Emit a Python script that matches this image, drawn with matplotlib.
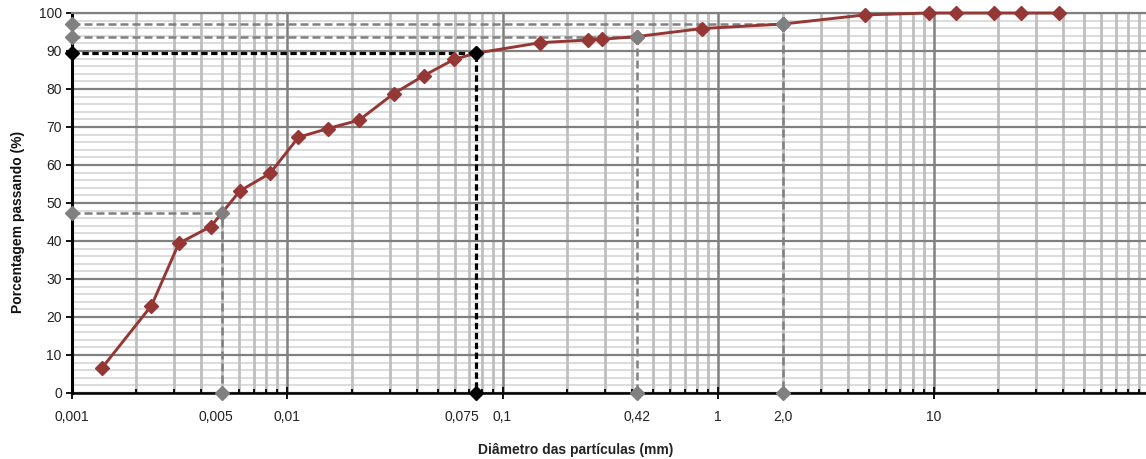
import matplotlib
matplotlib.use("Agg")
import matplotlib.pyplot as plt
import numpy as np
from matplotlib.ticker import LogLocator, MultipleLocator, NullFormatter

plt.rcParams['font.family'] = ['Liberation Sans', 'DejaVu Sans']

# Grain-size distribution (sedimentation + sieving)
diameter_mm = [0.00139, 0.00235, 0.00315, 0.00443, 0.00605, 0.00834, 0.0113,
               0.0155, 0.0216, 0.0313, 0.0431, 0.0596, 0.075, 0.15, 0.25,
               0.29, 0.42, 0.84, 2.0, 4.8, 9.5, 12.7, 19.1, 25.4, 38.1]
passing_pct = [6.7, 23.0, 39.4, 43.8, 53.2, 57.8, 67.3, 69.6, 71.8, 78.8,
               83.5, 87.8, 89.4, 92.2, 92.9, 93.1, 93.8, 95.9, 97.1, 99.5,
               100.0, 100.0, 100.0, 100.0, 100.0]

# Reference diameters with their passing percentages
ref_diameter = [0.005, 0.075, 0.42, 2.0]
ref_passing = [47.4, 89.4, 93.8, 97.1]
ref_color = ['#808080', '#000000', '#808080', '#808080']

x_tick_values = [0.001, 0.005, 0.01, 0.075, 0.1, 0.42, 1, 2.0, 10]
x_tick_labels = ['0,001', '0,005', '0,01', '0,075', '0,1', '0,42', '1', '2,0', '10']
x_tick_offsets = [0, -6, 0, -14, 0, 0, 0, 0, 0]  # label nudges in pixels

X_MIN, X_MAX = 0.001, 100
FS = 10

fig = plt.figure(figsize=(11.46, 4.59), dpi=100)
ax = fig.add_axes([71.5 / 1146, 66 / 459, (1149 - 71.5) / 1146, 380 / 459])
ax.set_xscale('log')
ax.set_xlim(X_MIN, X_MAX)
ax.set_ylim(0, 100)

ax.xaxis.set_major_locator(LogLocator(base=10, numticks=10))
ax.xaxis.set_minor_locator(LogLocator(base=10, subs=range(2, 10), numticks=20))
ax.yaxis.set_major_locator(MultipleLocator(10))
ax.yaxis.set_minor_locator(MultipleLocator(2))

# Grid, layered: minor horizontal < minor vertical < major horizontal < major vertical
y_major = ax.yaxis.get_majorticklocs()
y_minor = [v for v in ax.yaxis.get_minorticklocs() if v not in set(y_major)]
x_major = [v for v in ax.xaxis.get_majorticklocs() if X_MIN <= v <= X_MAX]
x_minor = [v for v in ax.xaxis.get_minorticklocs() if X_MIN <= v <= X_MAX]
ax.hlines(y_minor, X_MIN, X_MAX, color='#d9d9d9', lw=1.3, zorder=0.2)
ax.vlines(x_minor, 0, 100, color='#bfbfbf', lw=2.0, zorder=0.4)
ax.hlines(y_major, X_MIN, X_MAX, color='#808080', lw=1.6, zorder=0.6)
ax.vlines(x_major, 0, 100, color='#808080', lw=1.8, zorder=0.8)

# Ticks
ax.xaxis.set_major_formatter(NullFormatter())
ax.xaxis.set_minor_formatter(NullFormatter())
ax.tick_params(axis='x', which='major', direction='inout', length=9, width=1.3, color='black')
ax.tick_params(axis='x', which='minor', direction='in', length=3, width=1.3, color='black')
ax.tick_params(axis='y', which='major', direction='out', length=4, width=1.3,
               color='black', labelsize=FS, pad=3, labelcolor='#222222')
ax.tick_params(axis='y', which='minor', length=0)

for value, label, dx in zip(x_tick_values, x_tick_labels, x_tick_offsets):
    ax.annotate(label, xy=(value, 0), xycoords=('data', 'axes fraction'),
                xytext=(dx * 0.72, -17), textcoords='offset points',
                ha='center', va='center', fontsize=FS, color='#222222',
                annotation_clip=False)

ax.spines['left'].set_color('black')
ax.spines['left'].set_linewidth(2.2)
ax.spines['bottom'].set_color('black')
ax.spines['bottom'].set_linewidth(1.8)
ax.spines['top'].set_color('#808080')
ax.spines['top'].set_linewidth(1.6)
ax.spines['right'].set_visible(False)

# Reference guide lines
for d, p, c in zip(ref_diameter, ref_passing, ref_color):
    dash = (0, (2.0, 1.1)) if c == '#000000' else (0, (3.2, 1.6))
    lw = 2.3 if c == '#000000' else 1.8
    ax.plot([X_MIN, d, d], [p, p, 0], color=c, lw=lw, ls=dash, zorder=3,
            clip_on=False)

# Grain-size curve
ax.plot(diameter_mm, passing_pct, color='#953735', lw=2.1, marker='D',
        markersize=7.5, markeredgecolor='#953735', markerfacecolor='#953735',
        zorder=4, clip_on=False)

# Markers at the guide line ends
for d, p, c in zip(ref_diameter, ref_passing, ref_color):
    ax.plot([X_MIN, d, d], [p, p, 0], ls='none', marker='D', markersize=7,
            color=c, zorder=5, clip_on=False)

fig.text(18 / 1146, 1 - 222 / 459, 'Porcentagem passando (%)', rotation=90,
         ha='center', va='center', fontsize=FS, fontweight='bold', color='#111111')
fig.text(576 / 1146, 1 - 450 / 459, 'Diâmetro das partículas (mm)', ha='center',
         va='center', fontsize=FS, fontweight='bold', color='#222222')

fig.savefig('out.png', dpi=100)
